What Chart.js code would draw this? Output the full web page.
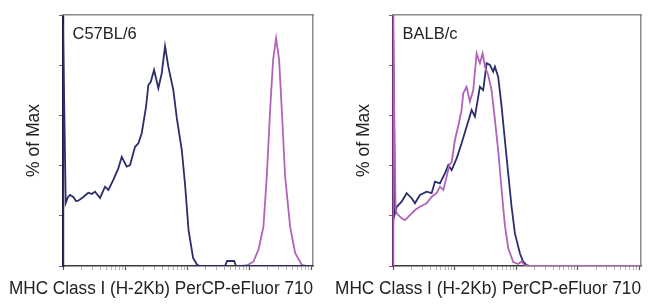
<!DOCTYPE html>
<html>
<head>
<meta charset="utf-8">
<script src="https://cdn.jsdelivr.net/npm/chart.js@4/dist/chart.umd.min.js"></script>
<style>
  html, body { margin: 0; padding: 0; background: #ffffff; }
  #wrap { position: relative; width: 650px; height: 306px; overflow: hidden; }
  .panel { position: absolute; top: 0; width: 325px; height: 306px; }
</style>
</head>
<body>
<div id="wrap">
  <div class="panel" style="left:0"><canvas id="c1" width="325" height="306"></canvas></div>
  <div class="panel" style="left:325px"><canvas id="c2" width="325" height="306"></canvas></div>
</div>
<script>
// ---------- data (x in log decades of fluorescence, y in % of Max) ----------
const panelLabels = ["C57BL/6", "BALB/c"];
const xAxisTitle = "MHC Class I (H-2Kb) PerCP-eFluor 710";
const yAxisTitle = "% of Max";
const yTickValues = [0, 20, 40, 60, 80, 100];
const xMajorDecades = [0, 1, 2, 3, 4];

const c57NavyX = [0, 0, 0.044, 0.081, 0.113, 0.166, 0.21, 0.247, 0.327, 0.408, 0.463, 0.516, 0.597, 0.677, 0.731, 0.811, 0.892, 0.947, 1.027, 1.081, 1.161, 1.215, 1.269, 1.339, 1.376, 1.415, 1.468, 1.537, 1.592, 1.645, 1.698, 1.779, 1.834, 1.915, 1.968, 2.024, 2.097, 2.161, 2.21, 2.613, 2.645, 2.758, 2.79, 4.03];
const c57NavyY = [0, 96.0, 25.1, 27.5, 28.3, 27.5, 25.9, 26.0, 27.5, 29.2, 28.7, 29.6, 27.1, 31.6, 30.3, 34.3, 38.9, 43.5, 39.6, 40.2, 47.5, 48.9, 52.9, 63.5, 72.1, 73.4, 78.1, 70.8, 76.8, 87.6, 79.4, 70.1, 59.0, 46.2, 32.3, 14.3, 3.2, 0.5, 0, 0, 2.0, 2.0, 0, 0];

const c57PinkX = [2.855, 2.963, 3.069, 3.15, 3.231, 3.285, 3.339, 3.387, 3.435, 3.484, 3.527, 3.581, 3.661, 3.742, 3.85, 3.92, 4.03];
const c57PinkY = [0, 0.2, 1.7, 6.4, 15.7, 35.6, 62.2, 82.1, 90.7, 82.1, 62.2, 35.6, 15.7, 5.2, 0.4, 0, 0];

const balbNavyX = [0, 0, 0.032, 0.06, 0.141, 0.222, 0.304, 0.357, 0.438, 0.547, 0.628, 0.682, 0.763, 0.844, 0.898, 0.953, 1.034, 1.115, 1.196, 1.278, 1.331, 1.412, 1.466, 1.521, 1.575, 1.628, 1.656, 1.709, 1.765, 1.818, 1.872, 1.927, 1.981, 2.062, 2.115, 2.17, 2.224, 4.03];
const balbNavyY = [0, 100, 21.0, 23.6, 25.6, 29.0, 27.0, 25.0, 28.3, 29.6, 29.0, 33.6, 32.9, 36.9, 40.2, 38.2, 42.9, 48.9, 55.5, 62.2, 59.5, 71.4, 70.1, 80.8, 80.1, 77.4, 79.4, 75.4, 63.5, 50.2, 36.9, 23.6, 13.0, 5.1, 1.7, 0.4, 0, 0];

const balbPinkX = [0, 0, 0.041, 0.06, 0.141, 0.195, 0.276, 0.357, 0.438, 0.547, 0.628, 0.709, 0.763, 0.817, 0.872, 0.914, 0.953, 1.006, 1.06, 1.115, 1.141, 1.196, 1.25, 1.304, 1.359, 1.412, 1.456, 1.494, 1.547, 1.602, 1.656, 1.709, 1.765, 1.818, 1.872, 1.953, 2.034, 2.089, 2.143, 2.224, 4.03];
const balbPinkY = [0, 100, 23.1, 21.0, 19.0, 18.3, 20.3, 22.3, 23.6, 25.0, 27.6, 29.0, 31.6, 30.3, 35.6, 40.2, 41.4, 50.2, 55.8, 62.2, 68.8, 71.4, 65.5, 70.1, 84.7, 80.8, 84.7, 79.4, 76.1, 70.1, 58.2, 46.2, 30.3, 16.3, 7.2, 1.6, 0.8, 1.8, 0.2, 0, 0];

// ---------- styling ----------
const NAVY = "#2c2d6b";
const PINK = "#b163b9";
const FONT = "'Liberation Sans', Arial, sans-serif";
const X_MAX = 4.03;

function pts(xs, ys) { return xs.map((x, i) => ({ x: x, y: ys[i] })); }

const panelLabelPlugin = {
  id: "panelLabel",
  afterDatasetsDraw(chart, args, opts) {
    const ctx = chart.ctx, a = chart.chartArea;
    ctx.save();
    ctx.font = "16.5px " + FONT;
    ctx.fillStyle = "#222";
    ctx.textBaseline = "middle";
    ctx.textAlign = "left";
    ctx.fillText(opts.text, a.left + opts.dx, a.top + opts.dy);
    ctx.restore();
  }
};

function xTickList() {
  const out = [];
  xMajorDecades.forEach(d => {
    out.push({ value: d, major: true });
    for (let k = 2; k <= 9; k++) {
      const v = d + Math.log10(k);
      if (v <= X_MAX) out.push({ value: v, major: false });
    }
  });
  return out;
}

function makeChart(id, datasets, cfg) {
  return new Chart(document.getElementById(id), {
    type: "line",
    data: { datasets: datasets },
    plugins: [panelLabelPlugin],
    options: {
      responsive: false,
      animation: false,
      devicePixelRatio: 1,
      layout: { padding: { left: cfg.padL, right: cfg.padR, top: 15, bottom: 0 } },
      elements: { point: { radius: 0 }, line: { tension: 0, borderWidth: 1.8 } },
      plugins: {
        legend: { display: false },
        tooltip: { enabled: false },
        title: {
          display: true, position: "bottom", text: xAxisTitle, color: "#222",
          font: { family: FONT, size: 18, weight: "normal", lineHeight: 1.2 },
          padding: { top: 0, bottom: 6.5 }
        },
        panelLabel: { text: cfg.label, dx: 9.5, dy: 19.5 }
      },
      scales: {
        x: {
          type: "linear", position: "bottom", min: 0, max: X_MAX,
          afterBuildTicks: s => { s.ticks = xTickList(); },
          afterFit: s => { s.height = 11.9; },
          ticks: { display: false },
          grid: {
            display: true, drawOnChartArea: false, drawTicks: true, tickLength: 4,
            tickColor: c => (c.tick && c.tick.major ? "#555" : "#b5b5b5"),
            tickWidth: c => (c.tick && c.tick.major ? 1.2 : 1)
          },
          border: { display: true, color: "#3a3a3a", width: 1.5 }
        },
        y: {
          type: "linear", position: "left", min: 0, max: 100,
          afterBuildTicks: s => { s.ticks = yTickValues.map(v => ({ value: v })); },
          afterFit: s => { s.width = cfg.yWidth; },
          ticks: { display: false },
          grid: { display: true, drawOnChartArea: false, drawTicks: true, tickLength: 4, tickColor: "#666", tickWidth: 1 },
          border: { display: true, color: cfg.leftColor, width: 2.2 },
          title: {
            display: true, text: yAxisTitle, color: "#222",
            font: { family: FONT, size: 17.5, weight: "normal", lineHeight: 1.2 },
            padding: { top: cfg.yTitlePad, bottom: 0 }
          }
        },
        x2: {
          type: "linear", position: "top", min: 0, max: X_MAX,
          afterFit: s => { s.height = 0; },
          ticks: { display: false },
          grid: { display: false, drawTicks: false },
          border: { display: true, color: "#8a8a8a", width: 1.5 }
        },
        y2: {
          type: "linear", position: "right", min: 0, max: 100,
          afterFit: s => { s.width = 0; },
          ticks: { display: false },
          grid: { display: false, drawTicks: false },
          border: { display: true, color: "#8a8a8a", width: 1.5 }
        }
      }
    }
  });
}

makeChart("c1", [
  { label: "C57BL/6 isotype", data: pts(c57NavyX, c57NavyY), borderColor: NAVY, fill: false },
  { label: "C57BL/6 MHC I", data: pts(c57PinkX, c57PinkY), borderColor: PINK, fill: false }
], { padL: 9, padR: 12, yWidth: 54, yTitlePad: 14.5, label: panelLabels[0], leftColor: "#1c1d4a" });

makeChart("c2", [
  { label: "BALB/c MHC I", data: pts(balbPinkX, balbPinkY), borderColor: PINK, fill: false },
  { label: "BALB/c isotype", data: pts(balbNavyX, balbNavyY), borderColor: NAVY, fill: false }
], { padL: 10, padR: 9, yWidth: 58, yTitlePad: 18.5, label: panelLabels[1], leftColor: "#7a2a80" });
</script>
</body>
</html>
